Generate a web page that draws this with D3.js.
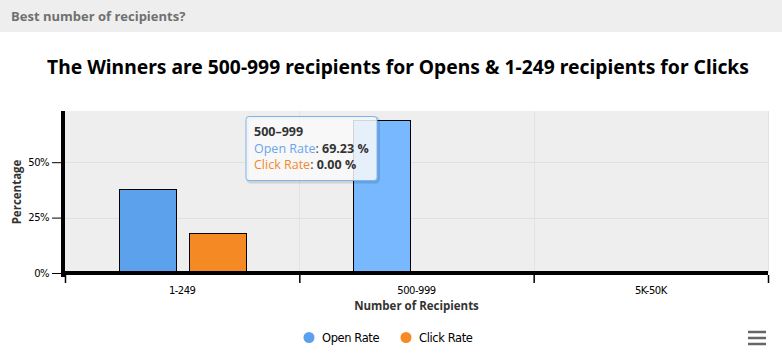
<!DOCTYPE html>
<html><head><meta charset="utf-8">
<script src="https://cdn.jsdelivr.net/npm/d3@7"></script>
<style>
body{margin:0;background:#fff;}
svg{display:block;}
</style></head>
<body>
<svg id="c" width="782" height="363"></svg>
<script>
const categories = ["1-249", "500-999", "5K-50K"];
const seriesNames = ["Open Rate", "Click Rate"];
const openRate = [38.0, 69.23, 0];
const clickRate = [18.0, 0, 0];
const yTicks = [0, 25, 50];
const colors = ["#5ba1ec", "#f58a24"];
const hoverColor = "#77b8ff";

const svg = d3.select("#c");
const W = 782, H = 363;
const m = {left: 65, right: 14, top: 111, bottom: 90};
const pw = W - m.left - m.right, ph = H - m.top - m.bottom;

// header
svg.append("rect").attr("x",0).attr("y",0).attr("width",W).attr("height",32).attr("fill","#eeeeee");
svg.append("text").attr("x",11).attr("y",21).text("Best number of recipients?")
  .attr("font-family","Open Sans, sans-serif").attr("font-weight","bold").attr("font-size",13).attr("fill","#707070");

// title
const title = svg.append("text").attr("x",398).attr("y",74).attr("text-anchor","middle")
  .text("The Winners are 500-999 recipients for Opens & 1-249 recipients for Clicks")
  .attr("font-family","Noto Sans, sans-serif").attr("font-weight","bold").attr("font-size",20).attr("fill","#000");
title.attr("textLength",702).attr("lengthAdjust","spacingAndGlyphs");

const x0 = d3.scaleBand().domain(categories).range([m.left, m.left+pw]).paddingInner(0).paddingOuter(0);
const x1 = d3.scaleBand().domain(seriesNames).range([0, x0.bandwidth()]).paddingInner(0.182).paddingOuter(0.772);
const y = d3.scaleLinear().domain([0, 73.1]).range([m.top+ph, m.top]);

// plot bg
svg.append("rect").attr("x",m.left).attr("y",m.top).attr("width",pw).attr("height",ph).attr("fill","#eeeeee");

// grid lines
svg.append("g").selectAll("line").data(yTicks.slice(1)).join("line")
  .attr("x1",m.left).attr("x2",m.left+pw).attr("y1",d=>Math.round(y(d))+0.5).attr("y2",d=>Math.round(y(d))+0.5)
  .attr("stroke","#e0e0e0").attr("stroke-width",1);
const xTickPos = categories.map(c=>x0(c)).concat([x0(categories[categories.length-1])+x0.bandwidth()]);
svg.append("g").selectAll("line").data(xTickPos.slice(1)).join("line")
  .attr("x1",d=>Math.round(d)+0.5).attr("x2",d=>Math.round(d)+0.5).attr("y1",m.top).attr("y2",m.top+ph)
  .attr("stroke","#e2e2e2").attr("stroke-width",1);

// bars
const data = [];
categories.forEach((c,i)=>{
  data.push({c, s:seriesNames[0], v:openRate[i], col: i===1? hoverColor: colors[0]});
  data.push({c, s:seriesNames[1], v:clickRate[i], col: colors[1]});
});
svg.append("g").selectAll("rect").data(data.filter(d=>d.v>0)).join("rect")
  .attr("x",d=>Math.round(x0(d.c)+x1(d.s))+0.5)
  .attr("width",d=>Math.round(x1.bandwidth()))
  .attr("y",d=>Math.round(y(d.v))+0.5)
  .attr("height",d=>y(0)-Math.round(y(d.v))-0.5)
  .attr("fill",d=>d.col).attr("stroke","#000").attr("stroke-width",1);

// y axis
const yAxis = d3.axisLeft(y).tickValues(yTicks).tickFormat(d=>d+"%").tickSize(10).tickPadding(3);
const gy = svg.append("g").attr("transform",`translate(${m.left-3},0)`).call(yAxis);
gy.select(".domain").remove();
gy.selectAll(".tick line").attr("stroke","#000");
gy.selectAll("text").attr("font-family","DejaVu Sans, sans-serif").attr("font-size",10).attr("fill","#000").attr("letter-spacing","-0.5");

// x axis
const xAxis = d3.axisBottom(d3.scaleLinear().domain([0,3]).range([m.left,m.left+pw])).tickValues([0,1,2,3]).tickFormat("").tickSize(8);
const gx = svg.append("g").attr("transform",`translate(0,${m.top+ph+2})`).call(xAxis);
gx.select(".domain").remove();
gx.selectAll(".tick line").attr("stroke","#000").attr("stroke-width",1.5);
svg.append("g").selectAll("text").data(categories).join("text")
  .attr("x",d=>x0(d)+x0.bandwidth()/2).attr("y",m.top+ph+21).attr("text-anchor","middle")
  .text(d=>d).attr("font-family","DejaVu Sans, sans-serif").attr("font-size",10).attr("fill","#000").attr("letter-spacing","-0.5");

// axis lines thick
svg.append("line").attr("x1",m.left-2).attr("x2",m.left-2).attr("y1",m.top).attr("y2",m.top+ph+4).attr("stroke","#000").attr("stroke-width",4);
svg.append("line").attr("x1",m.left-4).attr("x2",m.left+pw).attr("y1",m.top+ph).attr("y2",m.top+ph).attr("stroke","#000").attr("stroke-width",4);

// axis titles
svg.append("text").attr("x",m.left+pw/2).attr("y",m.top+ph+37).attr("text-anchor","middle")
  .text("Number of Recipients").attr("font-family","Open Sans, sans-serif").attr("font-weight","bold").attr("font-size",11.5).attr("fill","#333");
svg.append("text").attr("transform",`translate(21,${m.top+ph/2}) rotate(-90)`).attr("text-anchor","middle")
  .text("Percentage").attr("font-family","Open Sans, sans-serif").attr("font-weight","bold").attr("font-size",11.5).attr("fill","#333");

// legend
const leg = svg.append("g");
const legX = [309, 406];
seriesNames.forEach((s,i)=>{
  leg.append("circle").attr("cx",legX[i]).attr("cy",337.5).attr("r",5.5).attr("fill",colors[i]);
  leg.append("text").attr("x",legX[i]+13).attr("y",342).text(s)
    .attr("font-family","DejaVu Sans, sans-serif").attr("font-size",11.5).attr("fill","#000").attr("letter-spacing","-0.4");
});

// menu icon
[332,338,344].forEach(yy=>{
  svg.append("line").attr("x1",748).attr("x2",766).attr("y1",yy).attr("y2",yy).attr("stroke","#666").attr("stroke-width",2.5);
});

// tooltip
const tt = svg.append("g").attr("transform","translate(246,116.5)");
tt.append("rect").attr("x",1.5).attr("y",1.5).attr("width",131).attr("height",64).attr("rx",3).attr("fill","none").attr("stroke","rgba(0,0,0,0.12)").attr("stroke-width",3);
tt.append("rect").attr("x",0).attr("y",0).attr("width",131).attr("height",64).attr("rx",3)
  .attr("fill","rgba(249,249,249,0.85)").attr("stroke","#7cb5ec").attr("stroke-width",1);
const ttf = "Open Sans, sans-serif";
tt.append("text").attr("x",8).attr("y",19).text("500–999").attr("font-family",ttf).attr("font-weight","bold").attr("font-size",12.5).attr("fill","#333");
const rows = [[seriesNames[0], openRate[1], colors[0]],[seriesNames[1], clickRate[1], colors[1]]];
rows.forEach((r,i)=>{
  const t = tt.append("text").attr("x",8).attr("y",36+i*16).attr("font-family",ttf).attr("font-size",12.5).attr("fill","#333");
  t.append("tspan").text(r[0]).attr("fill", i===0? "#6aa6ee": "#f08a2c");
  t.append("tspan").text(": ");
  t.append("tspan").text(r[1].toFixed(2)+" %").attr("font-weight","bold");
});
</script>
</body></html>
